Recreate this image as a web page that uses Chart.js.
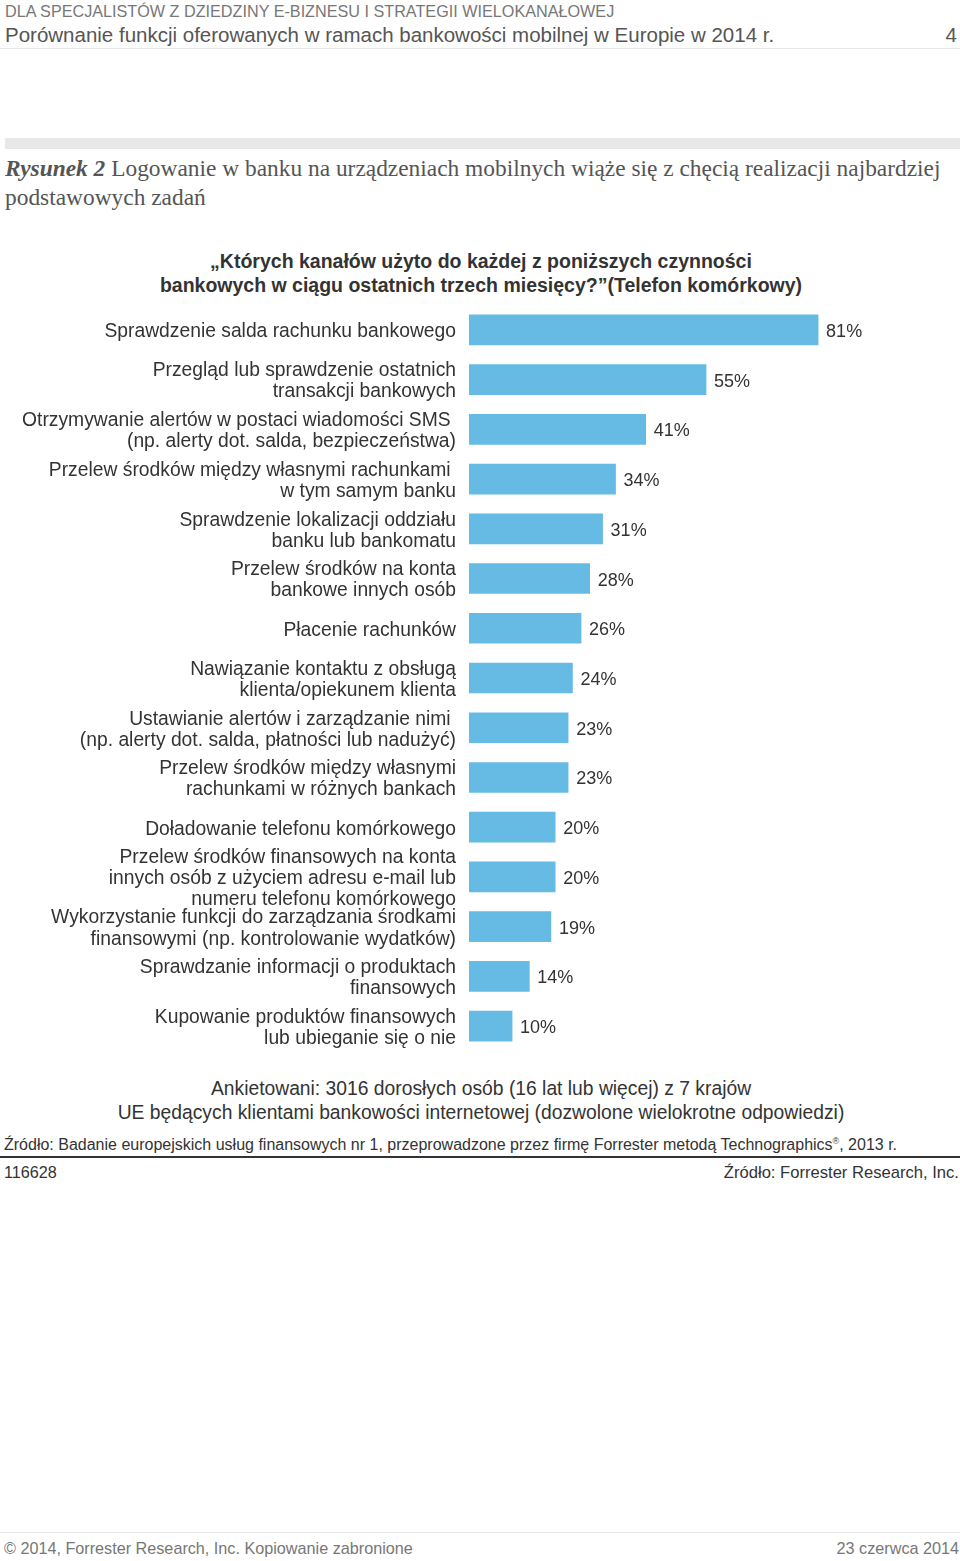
<!DOCTYPE html>
<html><head><meta charset="utf-8">
<script src="https://cdn.jsdelivr.net/npm/chart.js@4.4.1/dist/chart.umd.min.js"></script>
<style>
html,body{margin:0;padding:0;background:#fff;}
body{width:960px;height:1561px;position:relative;overflow:hidden;font-family:"Liberation Sans",Arial,sans-serif;color:#333;}
.a{position:absolute;white-space:nowrap;}
</style></head><body>
<div class="a" style="left:5px;top:1px;font-size:16.2px;line-height:20px;color:#777;">DLA SPECJALISTÓW Z DZIEDZINY E-BIZNESU I STRATEGII WIELOKANAŁOWEJ</div>
<div class="a" style="left:5px;top:23px;font-size:20.5px;line-height:24px;color:#555;">Porównanie funkcji oferowanych w ramach bankowości mobilnej w Europie w 2014 r.</div>
<div class="a" style="right:3px;top:23px;font-size:20.5px;line-height:24px;color:#555;">4</div>
<div class="a" style="left:0;top:48px;width:960px;height:1px;background:#e6e6e6;"></div>
<div class="a" style="left:5px;top:138px;width:955px;height:11px;background:#e8e8e8;"></div>
<div class="a" style="left:5px;top:154px;font-family:'Liberation Serif','DejaVu Serif',serif;font-size:23.4px;line-height:29px;color:#555;"><b><i>Rysunek 2</i></b> Logowanie w banku na urządzeniach mobilnych wiąże się z chęcią realizacji najbardziej<br>podstawowych zadań</div>
<div class="a" style="left:0;width:962px;top:249px;text-align:center;font-size:19.5px;font-weight:bold;line-height:24px;color:#333;">„Których kanałów użyto do każdej z poniższych czynności<br>bankowych w ciągu ostatnich trzech miesięcy?”(Telefon komórkowy)</div>
<div class="a" style="left:0;top:300px;width:960px;height:756px;"><canvas id="c"></canvas></div>
<div class="a" style="left:0;width:962px;top:1077px;text-align:center;font-size:19.3px;line-height:24px;color:#333;">Ankietowani: 3016 dorosłych osób (16 lat lub więcej) z 7 krajów<br>UE będących klientami bankowości internetowej (dozwolone wielokrotne odpowiedzi)</div>
<div class="a" style="left:4px;top:1132px;font-size:16px;line-height:19px;color:#333;">Źródło: Badanie europejskich usług finansowych nr 1, przeprowadzone przez firmę Forrester metodą Technographics<sup style="font-size:9px;">®</sup>, 2013 r.</div>
<div class="a" style="left:0;top:1156px;width:960px;height:2px;background:#333;"></div>
<div class="a" style="left:4px;top:1163px;font-size:16.2px;line-height:19px;color:#333;">116628</div>
<div class="a" style="right:1px;top:1163px;font-size:16.6px;line-height:19px;color:#333;">Źródło: Forrester Research, Inc.</div>
<div class="a" style="left:0;top:1532px;width:960px;height:1px;background:#e6e6e6;"></div>
<div class="a" style="left:4px;top:1539px;font-size:16.2px;line-height:19px;color:#777;">© 2014, Forrester Research, Inc. Kopiowanie zabronione</div>
<div class="a" style="right:1px;top:1539px;font-size:16.2px;line-height:19px;color:#777;">23 czerwca 2014</div>
<script>
const categories = [
  ["Sprawdzenie salda rachunku bankowego"],
  ["Przegląd lub sprawdzenie ostatnich","transakcji bankowych"],
  ["Otrzymywanie alertów w postaci wiadomości SMS ","(np. alerty dot. salda, bezpieczeństwa)"],
  ["Przelew środków między własnymi rachunkami ","w tym samym banku"],
  ["Sprawdzenie lokalizacji oddziału","banku lub bankomatu"],
  ["Przelew środków na konta","bankowe innych osób"],
  ["Płacenie rachunków"],
  ["Nawiązanie kontaktu z obsługą","klienta/opiekunem klienta"],
  ["Ustawianie alertów i zarządzanie nimi ","(np. alerty dot. salda, płatności lub nadużyć)"],
  ["Przelew środków między własnymi","rachunkami w różnych bankach"],
  ["Doładowanie telefonu komórkowego"],
  ["Przelew środków finansowych na konta","innych osób z użyciem adresu e-mail lub","numeru telefonu komórkowego"],
  ["Wykorzystanie funkcji do zarządzania środkami","finansowymi (np. kontrolowanie wydatków)"],
  ["Sprawdzanie informacji o produktach","finansowych"],
  ["Kupowanie produktów finansowych","lub ubieganie się o nie"]
];
const values = [81,55,41,34,31,28,26,24,23,23,20,20,19,14,10];
const xMax = 100;

const valueLabels = {
  id:'valueLabels',
  afterDatasetsDraw(chart){
    const ctx = chart.ctx;
    const meta = chart.getDatasetMeta(0);
    ctx.save();
    ctx.font = '18px "Liberation Sans", Arial, sans-serif';
    ctx.fillStyle = '#333';
    ctx.textBaseline = 'middle';
    ctx.textAlign = 'left';
    meta.data.forEach((bar,i)=>{
      ctx.fillText(values[i]+'%', bar.x + 8, bar.y + 2);
    });
    ctx.restore();
  }
};

new Chart(document.getElementById('c'), {
  type:'bar',
  data:{labels:categories, datasets:[{data:values, backgroundColor:'#65bbe3', barThickness:30, borderWidth:0}]},
  options:{
    indexAxis:'y', responsive:true, maintainAspectRatio:false, animation:false,
    layout:{padding:{top:5,bottom:5,right:60,left:0}},
    plugins:{legend:{display:false}, tooltip:{enabled:false}},
    scales:{
      x:{display:false, min:0, max:xMax},
      y:{
        grid:{display:false, drawTicks:false}, border:{display:false},
        afterFit(s){ s.width = 469; s.paddingTop = 0; s.paddingBottom = 0; },
        ticks:{autoSkip:false, padding:13, labelOffset:2, color:'#333', font:{family:'"Liberation Sans", Arial, sans-serif', size:19.3, lineHeight:1.09}}
      }
    }
  },
  plugins:[valueLabels]
});
</script>
</body></html>
